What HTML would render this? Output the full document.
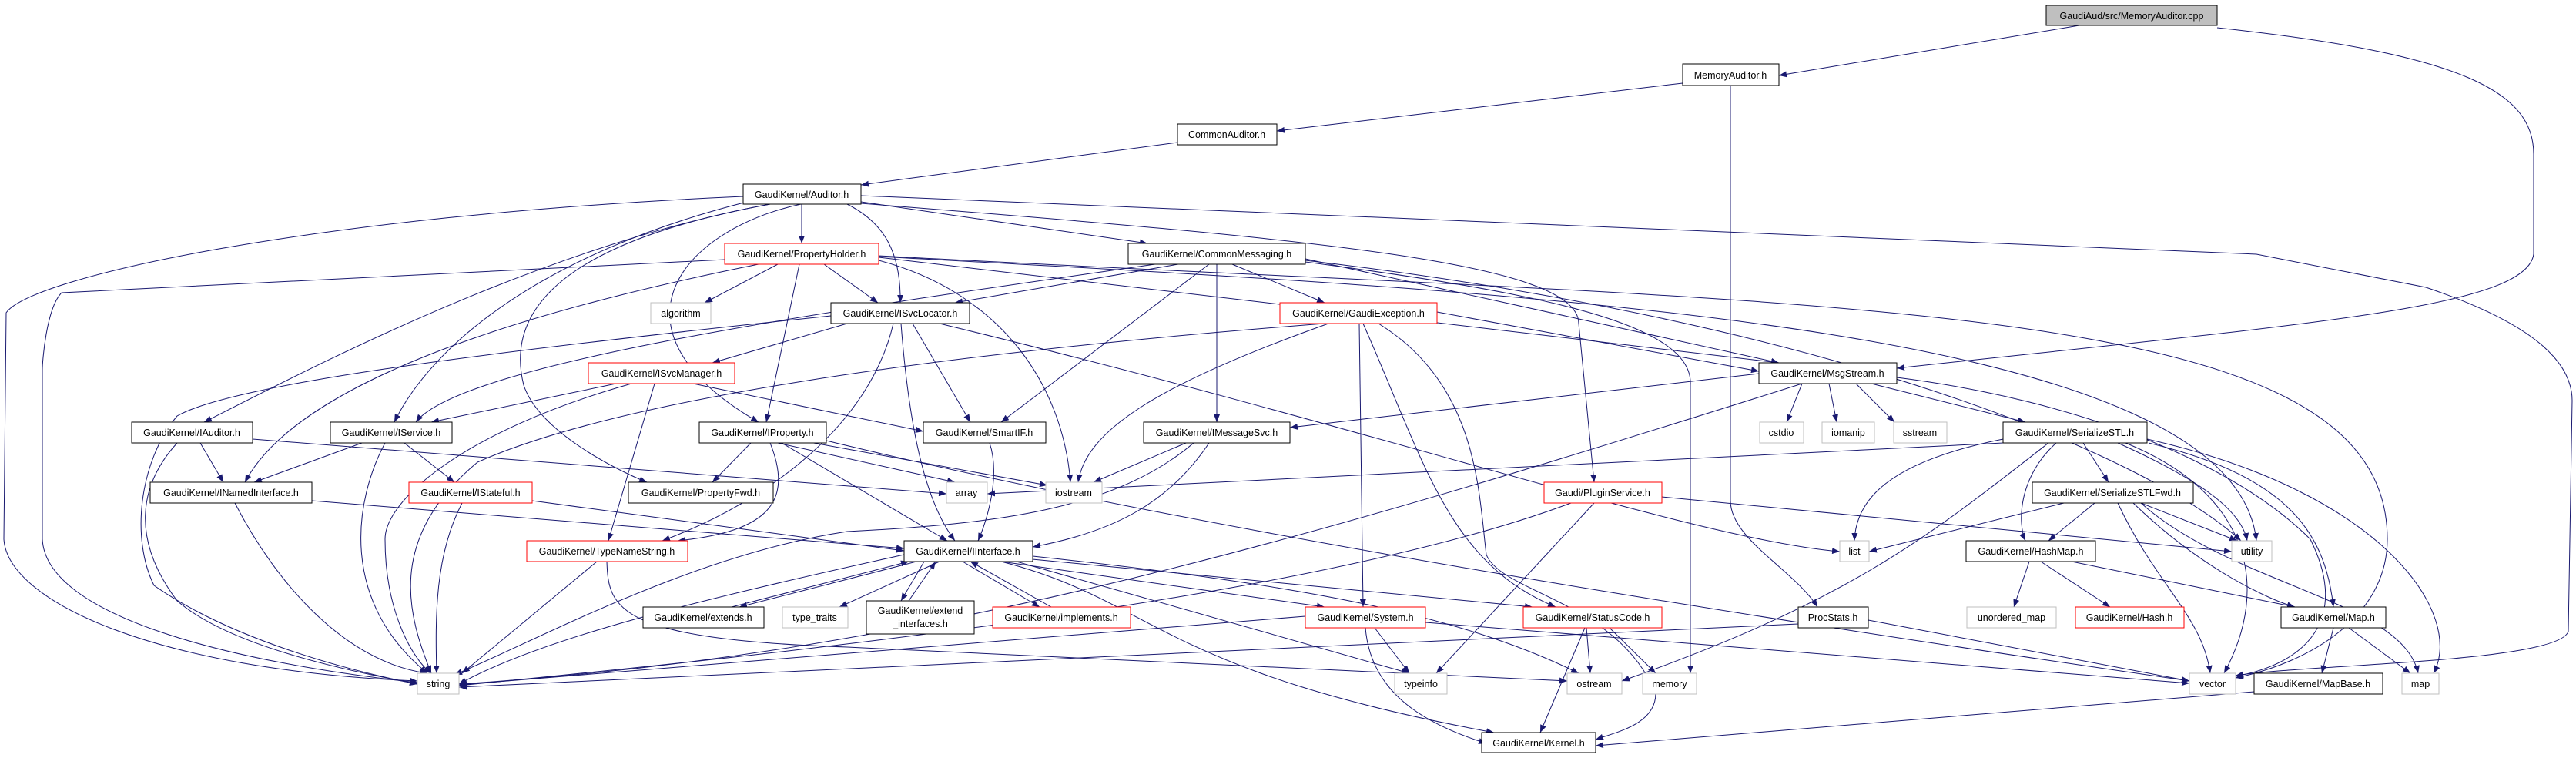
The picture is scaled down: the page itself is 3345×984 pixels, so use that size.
<!DOCTYPE html>
<html><head><meta charset="utf-8"><style>
html,body{margin:0;padding:0;background:#fff;}
svg{display:block}
text{font-family:"Liberation Sans",sans-serif;font-size:12.5px;fill:#000;text-anchor:middle}
.n{fill:#fff;stroke:#000;stroke-width:1}
.r{fill:#fff;stroke:#f00;stroke-width:1}
.g{fill:#fff;stroke:#bfbfbf;stroke-width:1}
path{fill:none;stroke:#191970;stroke-width:1;marker-end:url(#a)}
</style></head><body>
<svg width="3345" height="984" viewBox="0 0 3345 984" xmlns="http://www.w3.org/2000/svg">
<defs><marker id="a" markerWidth="10" markerHeight="8" refX="10" refY="4" orient="auto" markerUnits="userSpaceOnUse"><polygon points="0,0 10,4 0,8" fill="#191970"/></marker></defs>
<g>
<path d="M2700,33 L2310,98"/>
<path d="M2879,36 C3200,70 3290,120 3290,200 L3290,330 C3280,400 3000,420 2463,478"/>
<path d="M2185,108 L1658,170"/>
<path d="M2247,111 L2247,650 C2247,700 2330,740 2360,788"/>
<path d="M1529,185 L1118,240"/>
<path d="M965,255 C400,280 40,360 8,406 L5,700 C10,780 200,870 542,884"/>
<path d="M1000,265 C700,320 400,480 265,548"/>
<path d="M970,262 C700,330 560,450 512,548"/>
<path d="M1000,265 C700,320 660,420 680,500 C700,560 800,610 840,626"/>
<path d="M1040,265 C880,300 780,430 985,548"/>
<path d="M1041,265 L1041,316"/>
<path d="M1100,265 C1150,290 1170,330 1169,393"/>
<path d="M1118,262 L1490,316"/>
<path d="M1118,264 C1700,310 2050,340 2050,420 L2070,626"/>
<path d="M1118,254 L2930,330 L3150,373 C3290,420 3340,470 3340,520 L3335,820 C3320,860 3000,862 2903,877"/>
<path d="M941,337 L80,380 C60,400 55,470 55,480 L55,700 C60,800 300,860 542,886"/>
<path d="M985,343 C800,380 400,470 318,626"/>
<path d="M1010,343 L915,393"/>
<path d="M1038,343 L995,548"/>
<path d="M1070,343 L1140,393"/>
<path d="M1141,338 C1300,380 1380,500 1390,626"/>
<path d="M1141,334 L2310,471"/>
<path d="M1141,333 C2000,380 2900,420 2930,702"/>
<path d="M1141,332 C2400,400 3100,380 3100,700 C3100,800 3000,860 2903,880"/>
<path d="M1530,343 L1240,393"/>
<path d="M1500,343 C1100,400 600,470 540,548"/>
<path d="M1570,343 L1300,548"/>
<path d="M1580,343 L1580,548"/>
<path d="M1600,343 L1720,393"/>
<path d="M1695,336 L2310,471"/>
<path d="M1695,340 C2000,380 2200,420 2195,500 L2195,874"/>
<path d="M1695,338 C2400,420 2800,600 2910,702"/>
<path d="M1079,410 C600,460 300,500 230,540 C180,600 170,700 200,760 C300,830 450,870 542,888"/>
<path d="M1100,420 L925,471"/>
<path d="M1185,420 L1260,548"/>
<path d="M1170,420 C1180,550 1200,650 1240,702"/>
<path d="M1160,420 C1130,550 1000,650 860,702"/>
<path d="M1220,420 C1800,560 2200,700 2389,716"/>
<path d="M1720,420 C1200,460 800,520 620,600 C500,700 530,800 560,874"/>
<path d="M1725,420 C1500,500 1410,560 1400,626"/>
<path d="M1866,405 L2284,482"/>
<path d="M1765,420 L1770,788"/>
<path d="M1770,420 C1850,600 1880,730 2020,788"/>
<path d="M1790,420 C1920,500 1920,640 1930,720 C1950,770 2100,780 2150,900 C2150,940 2100,950 2072,960"/>
<path d="M800,498 L560,548"/>
<path d="M900,498 L1199,560"/>
<path d="M820,498 C600,560 500,650 500,700 C500,800 540,860 560,874"/>
<path d="M850,498 L790,702"/>
<path d="M2284,485 L1675,555"/>
<path d="M2340,498 L2320,548"/>
<path d="M2375,498 L2385,548"/>
<path d="M2410,498 L2460,548"/>
<path d="M2430,498 L2630,548"/>
<path d="M2340,498 C1700,700 1200,850 596,888"/>
<path d="M2463,490 C2700,520 2900,600 3000,700 C3050,800 3000,860 2903,878"/>
<path d="M260,575 L290,626"/>
<path d="M230,575 C180,630 170,700 230,780 C300,840 450,870 542,888"/>
<path d="M328,570 L1229,641"/>
<path d="M470,575 L330,626"/>
<path d="M525,575 L590,626"/>
<path d="M500,575 C460,650 440,780 555,874"/>
<path d="M975,575 L925,626"/>
<path d="M1010,575 L1240,626"/>
<path d="M1040,572 L1360,630"/>
<path d="M1000,575 C1030,650 1000,690 880,702"/>
<path d="M1015,575 L1230,702"/>
<path d="M1073,572 C1600,700 2400,820 2843,884"/>
<path d="M1285,575 C1300,620 1280,680 1270,702"/>
<path d="M1540,575 L1420,626"/>
<path d="M1570,575 C1520,650 1450,690 1341,710"/>
<path d="M1550,575 C1450,660 1300,680 1100,690 C900,720 700,830 590,876"/>
<path d="M305,653 C360,760 450,860 555,874"/>
<path d="M405,650 L1174,712"/>
<path d="M600,653 C565,720 565,800 567,874"/>
<path d="M691,650 L1174,715"/>
<path d="M775,729 L600,874"/>
<path d="M788,729 C790,790 800,830 1100,840 L2035,884"/>
<path d="M1190,729 L960,788"/>
<path d="M950,788 L1180,729"/>
<path d="M1200,729 L1170,780"/>
<path d="M1180,780 L1215,729"/>
<path d="M1250,729 L1350,788"/>
<path d="M1365,788 L1260,729"/>
<path d="M1220,729 L1090,788"/>
<path d="M1300,729 L1720,788"/>
<path d="M1330,725 L1990,788"/>
<path d="M1320,729 L1830,874"/>
<path d="M1341,722 C1700,760 1900,800 2050,874"/>
<path d="M1174,720 C900,780 700,830 596,888"/>
<path d="M1300,729 C1500,780 1500,870 1940,951"/>
<path d="M1695,800 C1200,840 800,870 596,889"/>
<path d="M1785,815 L1830,874"/>
<path d="M1773,815 C1780,900 1850,940 1930,965"/>
<path d="M1851,808 L2843,887"/>
<path d="M2060,815 L2065,874"/>
<path d="M2090,815 L2150,874"/>
<path d="M2058,815 L2000,951"/>
<path d="M2040,653 C1700,780 1000,850 596,890"/>
<path d="M2070,653 L1865,874"/>
<path d="M2158,645 L2898,716"/>
<path d="M2335,810 L596,892"/>
<path d="M2426,805 L2843,884"/>
<path d="M2601,570 C2450,600 2410,650 2408,702"/>
<path d="M2670,575 C2620,620 2620,680 2630,702"/>
<path d="M2705,575 L2738,626"/>
<path d="M2750,575 C2850,620 2910,660 2918,702"/>
<path d="M2760,575 C2920,640 2950,760 2888,874"/>
<path d="M2790,575 C2980,620 3020,700 3030,788"/>
<path d="M2788,570 C3100,640 3200,800 3160,874"/>
<path d="M2601,575 L1282,641"/>
<path d="M2660,575 C2500,700 2400,780 2106,884"/>
<path d="M2680,653 L2427,716"/>
<path d="M2720,653 L2660,702"/>
<path d="M2780,653 L2905,702"/>
<path d="M2750,653 C2800,760 2860,800 2870,874"/>
<path d="M2770,653 C2860,740 2950,780 2980,788"/>
<path d="M2780,653 C2900,760 3120,780 3140,874"/>
<path d="M2635,729 L2615,788"/>
<path d="M2650,729 L2740,788"/>
<path d="M2690,729 L2980,788"/>
<path d="M3030,815 L3015,874"/>
<path d="M3050,815 L3130,874"/>
<path d="M2927,898 L2072,968"/>
</g>
<g>
<rect x="2657" y="7" width="222" height="26" fill="#bfbfbf" stroke="#000"/><text x="2768" y="25">GaudiAud/src/MemoryAuditor.cpp</text>
<rect class="n" x="2185" y="83" width="125" height="28"/><text x="2247" y="102">MemoryAuditor.h</text>
<rect class="n" x="1529" y="161" width="129" height="27"/><text x="1593" y="179">CommonAuditor.h</text>
<rect class="n" x="965" y="239" width="153" height="26"/><text x="1041" y="257">GaudiKernel/Auditor.h</text>
<rect class="r" x="941" y="316" width="200" height="27"/><text x="1041" y="334">GaudiKernel/PropertyHolder.h</text>
<rect class="n" x="1465" y="316" width="230" height="27"/><text x="1580" y="334">GaudiKernel/CommonMessaging.h</text>
<rect class="g" x="845" y="393" width="78" height="27"/><text x="884" y="411">algorithm</text>
<rect class="n" x="1079" y="393" width="180" height="27"/><text x="1169" y="411">GaudiKernel/ISvcLocator.h</text>
<rect class="r" x="1662" y="393" width="204" height="27"/><text x="1764" y="411">GaudiKernel/GaudiException.h</text>
<rect class="r" x="764" y="471" width="190" height="27"/><text x="859" y="489">GaudiKernel/ISvcManager.h</text>
<rect class="n" x="2284" y="471" width="179" height="27"/><text x="2373" y="489">GaudiKernel/MsgStream.h</text>
<rect class="n" x="171" y="548" width="157" height="27"/><text x="249" y="566">GaudiKernel/IAuditor.h</text>
<rect class="n" x="429" y="548" width="158" height="27"/><text x="508" y="566">GaudiKernel/IService.h</text>
<rect class="n" x="908" y="548" width="165" height="27"/><text x="990" y="566">GaudiKernel/IProperty.h</text>
<rect class="n" x="1199" y="548" width="159" height="27"/><text x="1278" y="566">GaudiKernel/SmartIF.h</text>
<rect class="n" x="1485" y="548" width="190" height="27"/><text x="1580" y="566">GaudiKernel/IMessageSvc.h</text>
<rect class="g" x="2285" y="548" width="57" height="27"/><text x="2313" y="566">cstdio</text>
<rect class="g" x="2366" y="548" width="68" height="27"/><text x="2400" y="566">iomanip</text>
<rect class="g" x="2459" y="548" width="69" height="27"/><text x="2493" y="566">sstream</text>
<rect class="n" x="2601" y="548" width="187" height="27"/><text x="2694" y="566">GaudiKernel/SerializeSTL.h</text>
<rect class="n" x="195" y="626" width="210" height="27"/><text x="300" y="644">GaudiKernel/INamedInterface.h</text>
<rect class="r" x="531" y="626" width="160" height="27"/><text x="611" y="644">GaudiKernel/IStateful.h</text>
<rect class="n" x="816" y="626" width="188" height="27"/><text x="910" y="644">GaudiKernel/PropertyFwd.h</text>
<rect class="g" x="1229" y="626" width="53" height="27"/><text x="1255" y="644">array</text>
<rect class="g" x="1358" y="626" width="73" height="27"/><text x="1394" y="644">iostream</text>
<rect class="r" x="2005" y="626" width="153" height="27"/><text x="2081" y="644">Gaudi/PluginService.h</text>
<rect class="n" x="2639" y="626" width="209" height="27"/><text x="2743" y="644">GaudiKernel/SerializeSTLFwd.h</text>
<rect class="r" x="684" y="702" width="209" height="27"/><text x="788" y="720">GaudiKernel/TypeNameString.h</text>
<rect class="n" x="1174" y="702" width="167" height="27"/><text x="1257" y="720">GaudiKernel/IInterface.h</text>
<rect class="g" x="2389" y="702" width="38" height="27"/><text x="2408" y="720">list</text>
<rect class="n" x="2553" y="702" width="168" height="27"/><text x="2637" y="720">GaudiKernel/HashMap.h</text>
<rect class="g" x="2898" y="702" width="52" height="27"/><text x="2924" y="720">utility</text>
<rect class="n" x="835" y="788" width="157" height="27"/><text x="913" y="806">GaudiKernel/extends.h</text>
<rect class="g" x="1016" y="788" width="85" height="27"/><text x="1058" y="806">type_traits</text>
<rect class="n" x="1125" y="780" width="140" height="43"/><text x="1195" y="797">GaudiKernel/extend</text><text x="1195" y="814">_interfaces.h</text>
<rect class="r" x="1289" y="788" width="179" height="27"/><text x="1378" y="806">GaudiKernel/implements.h</text>
<rect class="r" x="1695" y="788" width="156" height="27"/><text x="1773" y="806">GaudiKernel/System.h</text>
<rect class="r" x="1978" y="788" width="180" height="27"/><text x="2068" y="806">GaudiKernel/StatusCode.h</text>
<rect class="n" x="2335" y="788" width="91" height="27"/><text x="2380" y="806">ProcStats.h</text>
<rect class="g" x="2554" y="788" width="116" height="27"/><text x="2612" y="806">unordered_map</text>
<rect class="r" x="2695" y="788" width="141" height="27"/><text x="2765" y="806">GaudiKernel/Hash.h</text>
<rect class="n" x="2962" y="788" width="136" height="27"/><text x="3030" y="806">GaudiKernel/Map.h</text>
<rect class="g" x="542" y="874" width="54" height="27"/><text x="569" y="892">string</text>
<rect class="g" x="1811" y="874" width="68" height="27"/><text x="1845" y="892">typeinfo</text>
<rect class="g" x="2035" y="874" width="71" height="27"/><text x="2070" y="892">ostream</text>
<rect class="g" x="2133" y="874" width="70" height="27"/><text x="2168" y="892">memory</text>
<rect class="g" x="2843" y="874" width="60" height="27"/><text x="2873" y="892">vector</text>
<rect class="n" x="2927" y="874" width="167" height="27"/><text x="3010" y="892">GaudiKernel/MapBase.h</text>
<rect class="g" x="3119" y="874" width="48" height="27"/><text x="3143" y="892">map</text>
<rect class="n" x="1924" y="951" width="148" height="26"/><text x="1998" y="969">GaudiKernel/Kernel.h</text>
</g>
</svg>
</body></html>
